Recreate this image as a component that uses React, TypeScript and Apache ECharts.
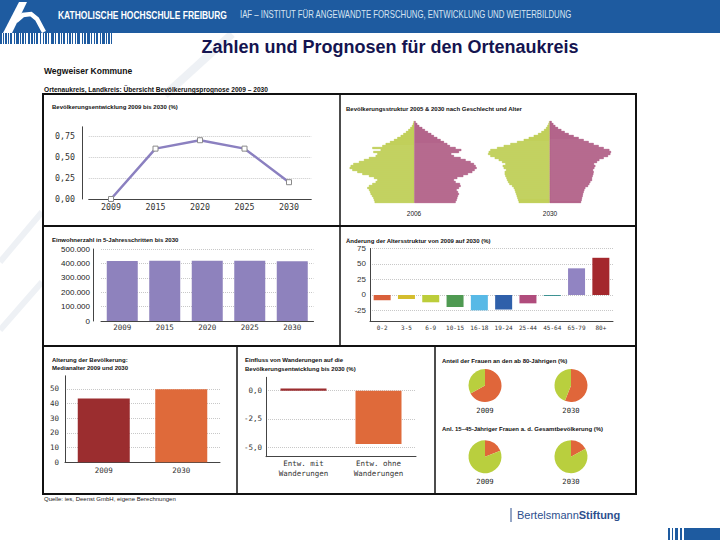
import React, { useEffect, useRef } from "react";
import * as echarts from "echarts";

// ---------- data ----------
const devYears = ["2009", "2015", "2020", "2025", "2030"];
const devValues = [0.0, 0.6, 0.7, 0.6, 0.2];

const popYears = ["2009", "2015", "2020", "2025", "2030"];
const popValues = [416000, 418000, 419000, 418000, 415000];

const ageBands = ["0-2", "3-5", "6-9", "10-15", "16-18", "19-24", "25-44", "45-64", "65-79", "80+"];
const ageChange = [-8.5, -6.5, -11.8, -19.4, -24.8, -23.6, -13.5, -1.5, 43, 60];
const ageColors = ["#d9603b", "#d4bd2e", "#bccd3a", "#4f9a52", "#58b9e6", "#2f60aa", "#b04c7c", "#2c8a8a", "#9184c2", "#a4282d"];

const medianYears = ["2009", "2030"];
const medianAge = [43.6, 49.8];
const medianColors = ["#9b2d2f", "#df6a3a"];

const migCats = ["Entw. mit\nWanderungen", "Entw. ohne\nWanderungen"];
const migValues = [0.2, -4.7];
const migColors = ["#9b2d2f", "#df6a3a"];

const pieYears = ["2009", "2030"];
const women80Share = [67, 56];
const women1545Share = [19, 17];

const pyrAges = ["0","2","5","7","10","12","15","17","20","22","25","27","30","32","35","37","40","42","45","47","50","52","55","57","60","62","65","67","70","72","75","77","80","82","85","87","90","92","95","97","100"];
const male2006 = [1983,2017,2050,2117,2183,2217,2267,2350,2267,2100,1933,1850,2017,2267,2600,2850,3100,3233,3183,3050,2767,2517,2267,1933,1850,2050,1683,2100,1600,1433,1217,1017,850,683,550,417,300,200,117,67,33];
const female2006 = [2067,2117,2150,2183,2233,2183,2117,2233,2317,2283,2067,1983,2150,2450,2683,2900,3017,3117,3067,2983,2817,2567,2317,1983,1850,2233,2350,2067,1783,1650,1483,1317,1150,983,850,683,533,400,250,150,67];
const male2030 = [1550,1583,1617,1650,1683,1717,1750,1800,1883,2017,2083,2133,2167,2217,2250,2250,2183,2300,2350,2217,2383,2550,2750,2967,3083,3050,2967,2633,2300,1967,1633,1300,1050,800,583,417,283,183,117,67,33];
const female2030 = [1567,1600,1617,1650,1667,1700,1733,1783,1917,1983,2033,2117,2117,2150,2183,2200,2167,2233,2283,2217,2367,2483,2700,2917,3033,3067,2983,2700,2450,2200,1950,1700,1450,1200,950,750,583,417,283,183,100];

const barcodeWidths = [2,1,1,1,2,1,1,1,2,2,1,1,3,1,1,1,2,1,1,2,2,1,2,1,1,1,2,2,1,2,1,1,2,1,1,2,3,1,1,2,2,1,1,1,2,2,1,1,2,1,1,2,1,1,3,2,1,1,2,1,3,1,1,2,1,1,2,2,1,1,3,1,1,1,2,1,1,2];

// ---------- styles ----------
const SANS = "Arial, 'Liberation Sans', sans-serif";
const MONO = "'DejaVu Sans Mono', monospace";
const HEADER_BLUE = "#1e5ba0";
const PURPLE = "#8e82bd";
const GREEN = "#b9c943";
const MAGENTA = "#a84f7b";
const PIE_ORANGE = "#e0663a";
const PIE_GREEN = "#b9cf3e";

const txt = (text: string, x: number, y: number, size: number, opts: any = {}) => ({
  type: "text",
  x,
  y,
  scaleX: opts.scaleX || 1,
  silent: true,
  z: 10,
  style: {
    text,
    fill: opts.fill || "#111",
    fontSize: size,
    fontFamily: opts.family || SANS,
    fontWeight: opts.weight || "normal",
    align: opts.align || "left",
    verticalAlign: "middle",
  },
});

const line = (x1: number, y1: number, x2: number, y2: number, w: number, color = "#111") => ({
  type: "line",
  silent: true,
  z: 10,
  shape: { x1, y1, x2, y2 },
  style: { stroke: color, lineWidth: w },
});

const gridLine = { type: "dotted", color: "#c8c8c8", width: 1 };
const axisLine = { show: true, lineStyle: { color: "#444", width: 1 } };

function buildBarcode() {
  const els: any[] = [];
  let x = 0;
  barcodeWidths.forEach((w, i) => {
    if (i % 2 === 0) {
      els.push({ type: "rect", silent: true, shape: { x, y: 33, width: w, height: 11 }, style: { fill: HEADER_BLUE } });
    }
    x += w;
  });
  return els;
}

function buildOption() {
  const graphics: any[] = [
    // faint watermark strokes
    { type: "line", silent: true, z: 0, shape: { x1: 165, y1: 95, x2: 232, y2: 34 }, style: { stroke: "#eef1f5", lineWidth: 8 } },
    { type: "line", silent: true, z: 0, shape: { x1: 0, y1: 262, x2: 42, y2: 212 }, style: { stroke: "#eef1f5", lineWidth: 6 } },
    { type: "line", silent: true, z: 0, shape: { x1: 0, y1: 330, x2: 42, y2: 282 }, style: { stroke: "#eef1f5", lineWidth: 6 } },
    // header
    { type: "rect", silent: true, z: 1, shape: { x: 0, y: 0, width: 720, height: 33 }, style: { fill: HEADER_BLUE } },
    { type: "polygon", silent: true, z: 2, shape: { points: [[3, 33], [12, 33], [27, 2], [19, 2]] }, style: { fill: "#ffffff" } },
    { type: "polyline", silent: true, z: 2, shape: { points: [[16, 21], [23, 15], [31, 14], [37, 19], [44, 32]] }, style: { stroke: "#ffffff", lineWidth: 4.5, fill: null } },
    txt("KATHOLISCHE HOCHSCHULE FREIBURG", 58, 15, 11, { fill: "#ffffff", weight: "bold", scaleX: 0.77 }),
    txt("IAF – INSTITUT FÜR ANGEWANDTE FORSCHUNG, ENTWICKLUNG UND WEITERBILDUNG", 240, 15, 10, { fill: "#d6e4f2", scaleX: 0.78 }),
    ...buildBarcode(),
    txt("Zahlen und Prognosen für den Ortenaukreis", 390, 47, 18, { fill: "#141450", weight: "bold", align: "center" }),
    // document headings
    txt("Wegweiser Kommune", 44, 71, 8.5, { weight: "bold" }),
    txt("Ortenaukreis, Landkreis: Übersicht Bevölkerungsprognose 2009 – 2030", 44, 89.5, 6.6, { weight: "bold" }),
    // frame
    { type: "rect", silent: true, z: 10, shape: { x: 43, y: 94, width: 593, height: 400 }, style: { fill: null, stroke: "#111", lineWidth: 2 } },
    line(340, 94, 340, 346, 1.5),
    line(43, 226, 636, 226, 2),
    line(43, 346, 636, 346, 2),
    line(237, 346, 237, 494, 1.5),
    line(435, 346, 435, 494, 1.5),
    // panel titles
    txt("Bevölkerungsentwicklung 2009 bis 2030 (%)", 52, 107, 6, { weight: "bold" }),
    txt("Bevölkerungsstruktur 2005 & 2030 nach Geschlecht und Alter", 346, 109, 6, { weight: "bold" }),
    txt("2006", 414, 213, 6.5, { align: "center", fill: "#222" }),
    txt("2030", 550, 213, 6.5, { align: "center", fill: "#222" }),
    txt("Einwohnerzahl in 5-Jahresschritten bis 2030", 52, 240, 6, { weight: "bold" }),
    txt("Änderung der Altersstruktur von 2009 auf 2030 (%)", 346, 241, 6, { weight: "bold" }),
    txt("Alterung der Bevölkerung:", 52, 360, 6, { weight: "bold" }),
    txt("Medianalter 2009 und 2030", 52, 367.5, 6, { weight: "bold" }),
    txt("Einfluss von Wanderungen auf die", 245, 360, 6, { weight: "bold" }),
    txt("Bevölkerungsentwicklung bis 2030 (%)", 245, 368.5, 6, { weight: "bold" }),
    txt("Anteil der Frauen an den ab 80-Jährigen (%)", 442, 361, 6, { weight: "bold" }),
    txt("Anl. 15–45-Jähriger Frauen a. d. Gesamtbevölkerung (%)", 442, 429, 6, { weight: "bold" }),
    txt(pieYears[0], 485, 410, 7.2, { align: "center", family: MONO, fill: "#222" }),
    txt(pieYears[1], 571, 410, 7.2, { align: "center", family: MONO, fill: "#222" }),
    txt(pieYears[0], 485, 481, 7.2, { align: "center", family: MONO, fill: "#222" }),
    txt(pieYears[1], 571, 481, 7.2, { align: "center", family: MONO, fill: "#222" }),
    // footer
    txt("Quelle: ies, Deenst GmbH, eigene Berechnungen", 44, 499, 6, { fill: "#222" }),
    line(511, 508, 511, 522, 1, "#2d4f8e"),
    {
      type: "text",
      x: 517,
      y: 515,
      silent: true,
      z: 10,
      style: {
        text: "{a|Bertelsmann}{b|Stiftung}",
        verticalAlign: "middle",
        rich: {
          a: { fontSize: 11, fontFamily: SANS, fill: "#2d4f8e", color: "#2d4f8e" },
          b: { fontSize: 11, fontFamily: SANS, fontWeight: "bold", fill: "#2d4f8e", color: "#2d4f8e" },
        },
      },
    },
    { type: "rect", silent: true, z: 2, shape: { x: 684, y: 528, width: 36, height: 12 }, style: { fill: HEADER_BLUE } },
    { type: "rect", silent: true, z: 2, shape: { x: 668, y: 528, width: 2, height: 12 }, style: { fill: HEADER_BLUE } },
    { type: "rect", silent: true, z: 2, shape: { x: 672, y: 528, width: 1, height: 12 }, style: { fill: HEADER_BLUE } },
    { type: "rect", silent: true, z: 2, shape: { x: 675, y: 528, width: 3, height: 12 }, style: { fill: HEADER_BLUE } },
    { type: "rect", silent: true, z: 2, shape: { x: 680, y: 528, width: 2, height: 12 }, style: { fill: HEADER_BLUE } },
  ];

  const monoLabel = (size: number, margin: number) => ({ fontFamily: MONO, fontSize: size, color: "#333", margin });

  const pyrBar = (data: number[], color: string, idx: number, sign: number) => ({
    type: "bar",
    xAxisIndex: idx,
    yAxisIndex: idx,
    data: data.map((v) => sign * v),
    barWidth: "100%",
    barGap: "-100%",
    barCategoryGap: 0,
    silent: true,
    itemStyle: { color, borderColor: color, borderWidth: 0.4 },
  });

  const pie = (cx: number, cy: number, orange: number) => ({
    type: "pie",
    center: [cx, cy],
    radius: 16.5,
    startAngle: 90,
    clockwise: true,
    silent: true,
    label: { show: false },
    labelLine: { show: false },
    data: [
      { value: orange, itemStyle: { color: PIE_ORANGE } },
      { value: 100 - orange, itemStyle: { color: PIE_GREEN } },
    ],
  });

  return {
    animation: false,
    backgroundColor: "#ffffff",
    graphic: { elements: graphics },
    grid: [
      { left: 88.75, top: 126.8, width: 222.5, height: 72.2 }, // 0 line
      { left: 101, top: 249, width: 212.5, height: 72 }, // 1 population bars
      { left: 370, top: 248.5, width: 243, height: 72.5 }, // 2 age change
      { left: 65, top: 375.8, width: 155, height: 86.5 }, // 3 median age
      { left: 266, top: 377.3, width: 150, height: 79.4 }, // 4 migration
      { left: 344.3, top: 121, width: 140, height: 82 }, // 5 pyramid 2006
      { left: 479.7, top: 121, width: 140, height: 82 }, // 6 pyramid 2030
    ],
    xAxis: [
      { gridIndex: 0, type: "category", data: devYears, axisLine, axisTick: { show: false }, axisLabel: monoLabel(8.3, 3.5) },
      { gridIndex: 1, type: "category", data: popYears, axisLine, axisTick: { show: false }, axisLabel: monoLabel(7.5, 2.5) },
      { gridIndex: 2, type: "category", data: ageBands, axisLine: { ...axisLine, onZero: false }, axisTick: { show: false }, axisLabel: { ...monoLabel(6, 3), interval: 0 } },
      { gridIndex: 3, type: "category", data: medianYears, axisLine, axisTick: { show: false }, axisLabel: monoLabel(7.5, 4.5) },
      { gridIndex: 4, type: "category", data: migCats, axisLine: { ...axisLine, onZero: false }, axisTick: { show: false }, axisLabel: { ...monoLabel(7.5, 2.5), lineHeight: 9.4, interval: 0 } },
      { gridIndex: 5, type: "value", min: -3500, max: 3500, show: false },
      { gridIndex: 6, type: "value", min: -3500, max: 3500, show: false },
    ],
    yAxis: [
      {
        gridIndex: 0, type: "value", min: 0, max: 0.86, interval: 0.25, offset: 6.75,
        axisLine, axisTick: { show: false },
        axisLabel: { ...monoLabel(8.3, 7), showMaxLabel: false, formatter: (v: number) => v.toFixed(2).replace(".", ",") },
        splitLine: { show: true, lineStyle: { ...gridLine, color: ["#c8c8c8", "#c8c8c8", "#c8c8c8", "#c8c8c8", "rgba(0,0,0,0)"] } },
      },
      {
        gridIndex: 1, type: "value", min: 0, max: 500000, interval: 100000, offset: 8,
        axisLine, axisTick: { show: false },
        axisLabel: { fontFamily: SANS, fontSize: 8, color: "#222", margin: 3, formatter: (v: number) => (v === 0 ? "0" : (v / 1000).toFixed(0) + ".000") },
        splitLine: { show: true, lineStyle: gridLine },
      },
      {
        gridIndex: 2, type: "value", min: -42, max: 75,
        axisLine, axisTick: { show: false, customValues: [-25, 0, 25, 50, 75] },
        axisLabel: { fontFamily: SANS, fontSize: 8, color: "#333", margin: 4, customValues: [-25, 0, 25, 50, 75] },
        splitLine: { show: true, lineStyle: gridLine },
      },
      {
        gridIndex: 3, type: "value", min: 0, max: 59, interval: 10,
        axisLine, axisTick: { show: false },
        axisLabel: { ...monoLabel(7.5, 6), showMaxLabel: false },
        splitLine: { show: true, lineStyle: { ...gridLine, color: ["#c8c8c8", "#c8c8c8", "#c8c8c8", "#c8c8c8", "#c8c8c8", "#c8c8c8", "rgba(0,0,0,0)"] } },
      },
      {
        gridIndex: 4, type: "value", min: -5.83, max: 1.18,
        axisLine, axisTick: { show: false, customValues: [-5, -2.5, 0] },
        axisLabel: { ...monoLabel(7.5, 4), customValues: [-5, -2.5, 0], formatter: (v: number) => v.toFixed(1).replace(".", ",") },
        splitLine: { show: true, lineStyle: gridLine },
      },
      { gridIndex: 5, type: "category", data: pyrAges, show: false },
      { gridIndex: 6, type: "category", data: pyrAges, show: false },
    ],
    series: [
      {
        type: "line", xAxisIndex: 0, yAxisIndex: 0, data: devValues, silent: true,
        symbol: "rect", symbolSize: 5, showAllSymbol: true,
        lineStyle: { color: "#8b80c0", width: 2.5 },
        itemStyle: { color: "#ffffff", borderColor: "#8a8a8a", borderWidth: 1 },
      },
      { type: "bar", xAxisIndex: 1, yAxisIndex: 1, data: popValues, barWidth: 31, silent: true, itemStyle: { color: PURPLE } },
      {
        type: "bar", xAxisIndex: 2, yAxisIndex: 2, barWidth: 17, silent: true,
        data: ageChange.map((v, i) => ({ value: v, itemStyle: { color: ageColors[i] } })),
      },
      {
        type: "bar", xAxisIndex: 3, yAxisIndex: 3, barWidth: 52, silent: true,
        data: medianAge.map((v, i) => ({ value: v, itemStyle: { color: medianColors[i] } })),
      },
      {
        type: "bar", xAxisIndex: 4, yAxisIndex: 4, barWidth: 46, silent: true,
        data: migValues.map((v, i) => ({ value: v, itemStyle: { color: migColors[i] } })),
      },
      pyrBar(male2006, GREEN, 5, -1),
      pyrBar(female2006, MAGENTA, 5, 1),
      pyrBar(male2030, GREEN, 6, -1),
      pyrBar(female2030, MAGENTA, 6, 1),
      pie(485, 385.5, women80Share[0]),
      pie(571, 385.5, women80Share[1]),
      pie(485, 456.7, women1545Share[0]),
      pie(571, 456.7, women1545Share[1]),
    ],
  };
}

export default function App() {
  const ref = useRef<HTMLDivElement>(null);
  useEffect(() => {
    if (!ref.current) return;
    const chart = echarts.init(ref.current, undefined, { renderer: "svg" });
    chart.setOption(buildOption() as any);
    return () => chart.dispose();
  }, []);
  return (
    <div
      ref={ref}
      style={{ position: "fixed", left: 0, top: 0, width: 720, height: 540, background: "#fff" }}
    />
  );
}
